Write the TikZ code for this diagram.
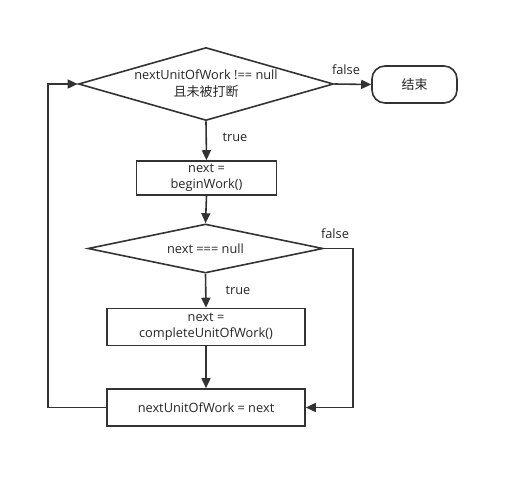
\documentclass[tikz,border=0pt]{standalone}
\usepackage{fontspec}
\setmainfont{Open Sans}
\newfontfamily\cjk{Noto Sans CJK SC}
\usetikzlibrary{shapes.geometric, arrows.meta}

\begin{document}
\begin{tikzpicture}[x=1pt, y=-1pt,
		% Style des losanges de test
		decision/.style={
			diamond,
			draw=black!80,
			line width=1.6pt,
			text=black!85,
			font=\fontsize{12.8}{17}\selectfont,
			align=center,
			inner sep=-5pt,
			minimum width=#1,
		},
		% Style des blocs d'action
		process/.style={
			rectangle,
			draw=black!80,
			line width=1.6pt,
			text=black!85,
			font=\fontsize{12.8}{16}\selectfont,
			align=center,
			inner sep=0pt,
		},
		% Style du bloc de fin
		terminal/.style={
			rectangle,
			rounded corners=13pt,
			draw=black!80,
			line width=1.6pt,
			text=black!85,
			font=\cjk\fontsize{13}{16}\selectfont,
			minimum width=85pt,
			minimum height=37pt,
		},
		flow/.style={
			draw=black!80,
			line width=1.6pt,
			-{Triangle[length=10pt,width=9pt]}
		},
		branch/.style={
			font=\fontsize{12.8}{14}\selectfont,
			text=black!85,
			inner sep=0pt
		}
		]
		\useasboundingbox (0,0) rectangle (517,488);
		
		% --- BLOCS ---
		\node[decision=255pt, minimum height=73pt, aspect=3.49] (loop) at (206,84) {nextUnitOfWork !== null\\{\cjk\fontsize{13}{17}\selectfont 且未被打断}};
		\node[terminal] (stop) at (414.5,84.5) {结束};
		\node[process, minimum width=140pt, minimum height=34pt] (begin) at (206.5,178) {next =\\beginWork()};
		\node[decision=235pt, minimum height=49pt, aspect=4.8] (isnull) at (205.5,248.5) {next === null};
		\node[process, minimum width=198pt, minimum height=37pt] (complete) at (206,327) {next =\\completeUnitOfWork()};
		\node[process, minimum width=198pt, minimum height=37pt] (assign) at (206,407.5) {nextUnitOfWork = next};
		
		% --- COORDONNÉES DES RETOURS ---
		\coordinate (R) at (353,248.5);
		\coordinate (L) at (48,407.5);
		
		% --- CONNECTEURS ---
		\draw[flow] (loop.south) -- (begin.north);
		\draw[flow] (loop.east) -- (stop.west);
		\draw[flow] (begin.south) -- (isnull.north);
		\draw[flow] (isnull.south) -- (complete.north);
		\draw[flow] (complete.south) -- (assign.north);
		\draw[flow] (isnull.east) -- (R) |- (assign.east);
		\draw[flow] (assign.west) -- (L) |- (loop.west);
		
		% --- ÉTIQUETTES ---
		\node[branch] (t1) at (235,137) {true};
		\node[branch] (f1) at (346,70) {false};
		\node[branch] (t2) at (238,290) {true};
		\node[branch] (f2) at (335,234) {false};
		
	\end{tikzpicture}
\end{document}
